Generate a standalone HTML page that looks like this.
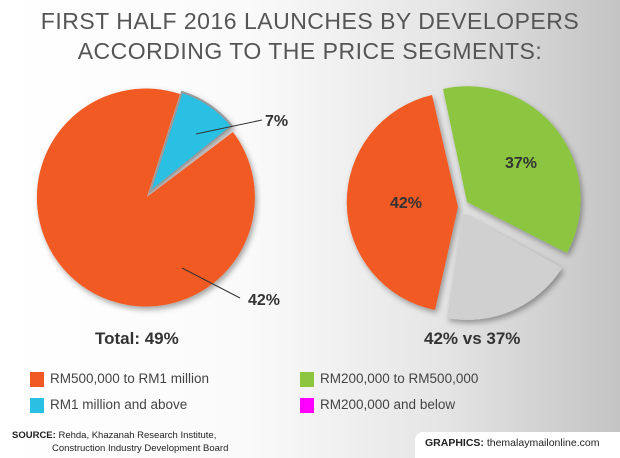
<!DOCTYPE html>
<html><head><style>
body{margin:0}
#c{width:620px;height:458px;position:relative;overflow:hidden;background:linear-gradient(90deg,#fff 0%,#fafafa 40%,#e6e6e6 70%,#c4c4c4 100%);font-family:"Liberation Sans",sans-serif}
.t{position:absolute;left:0;width:620px;text-align:center;color:#555;font-size:23px;letter-spacing:0.5px}
.lg{position:absolute;font-size:13.5px;color:#444}
.sw{position:absolute;width:14px;height:15px}
</style></head><body><div id="c">
<div class="t" style="top:8px">FIRST HALF 2016 LAUNCHES BY DEVELOPERS</div>
<div class="t" style="top:38px">ACCORDING TO THE PRICE SEGMENTS:</div>
<svg width="620" height="458" style="position:absolute;left:0;top:0">
<defs><filter id="s" x="-20%" y="-20%" width="140%" height="140%"><feDropShadow dx="2" dy="3" stdDeviation="3" flood-color="#000" flood-opacity="0.35"/></filter></defs>
<g filter="url(#s)">
<path d="M147,197 L180,94 A109 109 0 1 0 233,132 Z" fill="#f15a24"/>
<path d="M150,192 L182,92 A106 106 0 0 1 232,126 Z" fill="#29c0e4" stroke="#999" stroke-width="2"/>
<path d="M458,207 L432,95 A110 110 0 0 0 435,310 Z" fill="#f15a24"/>
<path d="M467,202 L443,89 A113 113 0 0 1 567,253 Z" fill="#8cc63f"/>
<path d="M463,213 L562,268 A112 112 0 0 1 447,318 Z" fill="#d0d0d0"/>
</g>
<line x1="196" y1="134" x2="262" y2="120" stroke="#333" stroke-width="1"/>
<line x1="182" y1="268" x2="240" y2="298" stroke="#333" stroke-width="1"/>
<g font-weight="bold" font-size="16" fill="#333">
<text x="265" y="126">7%</text>
<text x="248" y="305">42%</text>
<text x="390" y="208">42%</text>
<text x="505" y="168">37%</text>
</g>
<g font-weight="bold" font-size="17" fill="#333">
<text x="95" y="344">Total: 49%</text>
<text x="424" y="344">42% vs 37%</text>
</g>
</svg>
<div class="sw" style="left:30px;top:372px;background:#f15a24"></div><div class="lg" style="left:50px;top:371px">RM500,000 to RM1 million</div>
<div class="sw" style="left:30px;top:398px;background:#29c0e4"></div><div class="lg" style="left:50px;top:397px">RM1 million and above</div>
<div class="sw" style="left:300px;top:372px;background:#8cc63f"></div><div class="lg" style="left:320px;top:371px">RM200,000 to RM500,000</div>
<div class="sw" style="left:300px;top:398px;background:#f0f"></div><div class="lg" style="left:320px;top:397px">RM200,000 and below</div>
<div style="position:absolute;left:12px;top:429px;font-size:9.5px;color:#222;line-height:13px"><b>SOURCE:</b> Rehda, Khazanah Research Institute,<br><span style="padding-left:40px">Construction Industry Development Board</span></div>
<div style="position:absolute;left:415px;top:432px;width:215px;height:30px;background:#fff;border-radius:8px 0 0 0"></div>
<div style="position:absolute;left:425px;top:437px;font-size:10.5px;color:#222"><b>GRAPHICS:</b> themalaymailonline.com</div>
</div></body></html>
